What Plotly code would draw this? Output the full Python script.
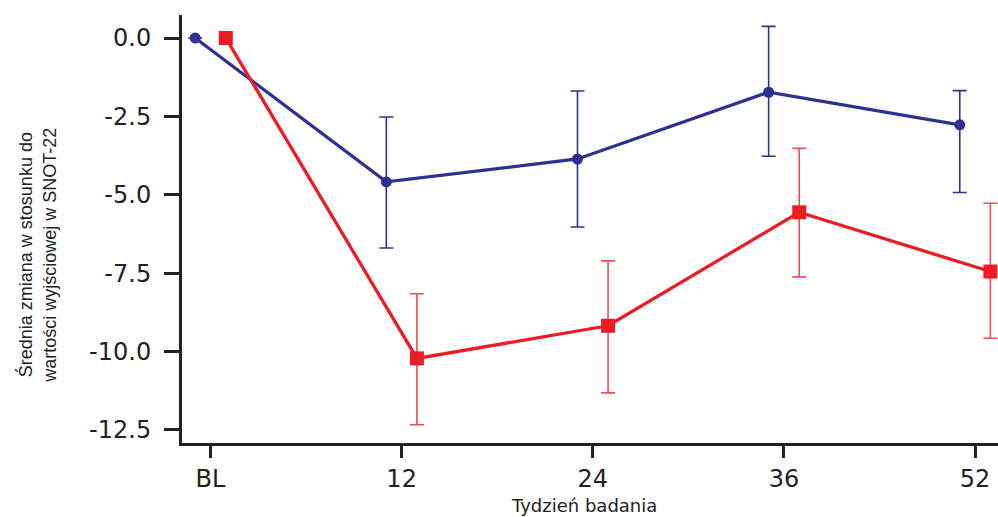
import plotly.graph_objects as go

weeks = ["BL", "12", "24", "36", "52"]
blue_mean = [0.0, -4.59, -3.86, -1.73, -2.77]
blue_err_up = [0.0, 2.07, 2.17, 2.10, 1.09]
blue_err_down = [0.0, 2.11, 2.17, 2.04, 2.16]
red_mean = [0.0, -10.22, -9.18, -5.56, -7.45]
red_err_up = [0.0, 2.06, 2.07, 2.04, 2.18]
red_err_down = [0.0, 2.12, 2.14, 2.06, 2.13]

pos = list(range(len(weeks)))
dodge = 0.08

BLUE = "#2E3192"
RED = "#ED1C24"
INK = "#222222"

fig = go.Figure()
fig.add_trace(go.Scatter(
    x=[p - dodge for p in pos], y=blue_mean, mode="lines+markers",
    line=dict(color=BLUE, width=3.3),
    marker=dict(symbol="circle", size=11, color=BLUE),
    error_y=dict(type="data", symmetric=False, array=blue_err_up, arrayminus=blue_err_down,
                 color=BLUE, thickness=1.6, width=7),
    cliponaxis=False, showlegend=False))
fig.add_trace(go.Scatter(
    x=[p + dodge for p in pos], y=red_mean, mode="lines+markers",
    line=dict(color=RED, width=3.3),
    marker=dict(symbol="square", size=14, color=RED),
    error_y=dict(type="data", symmetric=False, array=red_err_up, arrayminus=red_err_down,
                 color="#F0505A", thickness=1.6, width=7),
    cliponaxis=False, showlegend=False))

fig.update_layout(
    width=998, height=517,
    margin=dict(l=182, r=0, t=15, b=74, autoexpand=False),
    paper_bgcolor="white", plot_bgcolor="white",
    font=dict(family="DejaVu Sans, Liberation Sans, sans-serif", color=INK),
    xaxis=dict(
        range=[-0.149, 4.12], tickmode="array", tickvals=pos, ticktext=weeks,
        showgrid=False, zeroline=False, showline=True, linecolor=INK, linewidth=3,
        ticks="outside", ticklen=12, tickwidth=3, tickcolor=INK,
        tickfont=dict(size=24, color=INK),
    ),
    yaxis=dict(
        range=[-12.92, 0.734], tickmode="array",
        tickvals=[0, -2.5, -5, -7.5, -10, -12.5],
        ticktext=["0.0", "-2.5", "-5.0", "-7.5", "-10.0", "-12.5"],
        showgrid=False, zeroline=False, showline=True, linecolor=INK, linewidth=3,
        ticks="outside", ticklen=15, tickwidth=3, tickcolor=INK,
        tickfont=dict(size=24, color=INK), ticklabelstandoff=8,
    ),
    annotations=[
        dict(text="Tydzień badania", xref="paper", yref="paper", x=0.493, y=-0.147,
             xanchor="center", yanchor="middle", showarrow=False,
             font=dict(size=18, color=INK)),
        dict(text="Średnia zmiana w stosunku do<br>wartości wyjściowej w SNOT-22",
             xref="paper", yref="paper", x=-0.177, y=0.439, xanchor="center", yanchor="middle",
             textangle=-90, showarrow=False,
             font=dict(size=18, family="Liberation Sans Narrow, Arial Narrow, Liberation Sans, sans-serif",
                       color=INK)),
    ],
)

fig.write_html(
    "out.html",
    config={"displayModeBar": False},
    post_script="document.body.style.margin='0';document.body.style.overflow='hidden';",
)
